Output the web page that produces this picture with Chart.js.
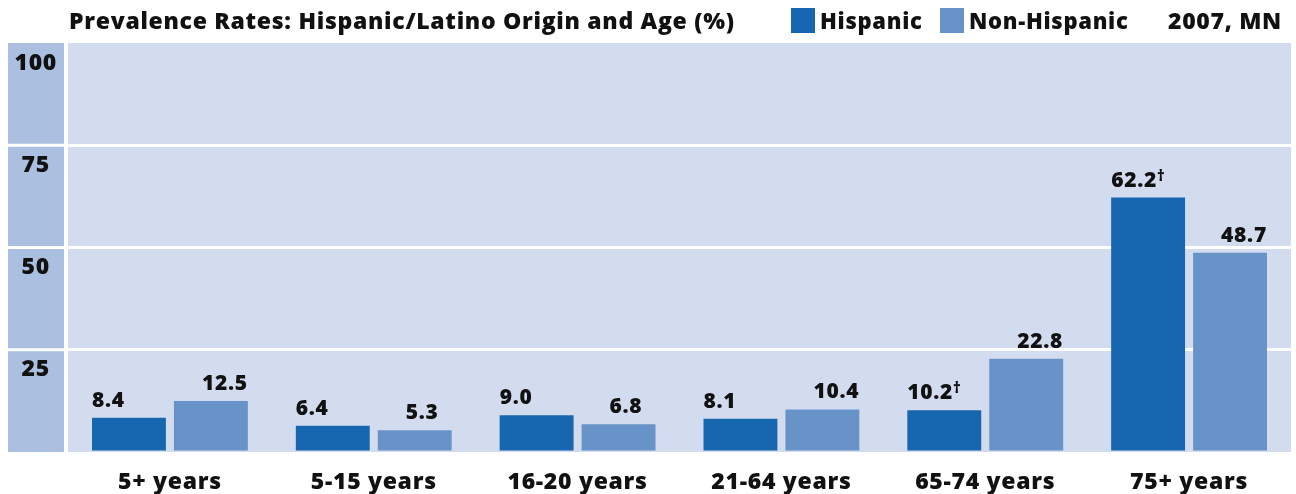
<!DOCTYPE html>
<html>
<head>
<meta charset="utf-8">
<script src="https://cdn.jsdelivr.net/npm/chart.js@4/dist/chart.umd.min.js"></script>
<style>
  html, body { margin: 0; padding: 0; background: #fff; }
  #wrap { position: relative; width: 1296px; height: 494px; }
</style>
</head>
<body>
<div id="wrap"><canvas id="chart"></canvas></div>
<script>
// data
var categories = ['5+ years', '5-15 years', '16-20 years', '21-64 years', '65-74 years', '75+ years'];
var hispanic = [8.4, 6.4, 9.0, 8.1, 10.2, 62.2];
var nonHispanic = [12.5, 5.3, 6.8, 10.4, 22.8, 48.7];
var hispanicNotes = ['', '', '', '', '†', '†'];
var nonHispanicNotes = ['', '', '', '', '', ''];
var yTicks = [0, 25, 50, 75, 100];

var FONT = '"Open Sans", "DejaVu Sans", sans-serif';
var WEIGHT = '800';
var blue = '#1666b0';
var lightBlue = '#6893c9';
var plotBg = '#d3dcef';
var panelBg = '#abbfe0';

// the original type is a bit wider, so open up the letters a little
var spacing = {
    id: 'spacing',
    beforeUpdate: function (chart) { chart.ctx.letterSpacing = '0.7px'; },
    beforeDraw: function (chart) { chart.ctx.letterSpacing = '0.7px'; }
};

// backgrounds: plot area and the tick panel on the left
var backdrop = {
    id: 'backdrop',
    beforeDraw: function (chart) {
        var ctx = chart.ctx;
        var a = chart.chartArea;
        var y = chart.scales.y;
        ctx.save();
        ctx.fillStyle = plotBg;
        ctx.fillRect(a.left, a.top, a.right - a.left, a.bottom - a.top);
        ctx.fillStyle = panelBg;
        ctx.fillRect(8, a.top, a.left - 4 - 8, a.bottom - a.top);
        ctx.strokeStyle = '#ffffff';
        ctx.lineWidth = 3;
        yTicks.forEach(function (t) {
            if (t === 0 || t === 100) return;
            var py = y.getPixelForValue(t);
            ctx.beginPath();
            ctx.moveTo(8, py);
            ctx.lineTo(a.left, py);
            ctx.stroke();
        });
        ctx.restore();
    }
};

// value labels above the bars
var valueLabels = {
    id: 'valueLabels',
    afterDatasetsDraw: function (chart) {
        var ctx = chart.ctx;
        ctx.save();
        ctx.fillStyle = '#111';
        ctx.textBaseline = 'alphabetic';
        ctx.textAlign = 'left';
        chart.data.datasets.forEach(function (ds, di) {
            var meta = chart.getDatasetMeta(di);
            var notes = di === 0 ? hispanicNotes : nonHispanicNotes;
            var shift = di === 0 ? 0 : 28;
            meta.data.forEach(function (bar, i) {
                var txt = ds.data[i].toFixed(1);
                var x = bar.x - bar.width / 2 + shift;
                var by = bar.y - 11;
                ctx.font = WEIGHT + ' 21px ' + FONT;
                ctx.fillText(txt, x, by);
                if (notes[i]) {
                    var w = ctx.measureText(txt).width;
                    ctx.font = WEIGHT + ' 15px ' + FONT;
                    ctx.fillText(notes[i], x + w, by - 6);
                }
            });
        });
        ctx.restore();
    }
};

// header line: title, legend boxes, year/state
var header = {
    id: 'header',
    afterDraw: function (chart) {
        var ctx = chart.ctx;
        ctx.save();
        ctx.fillStyle = '#111';
        ctx.textBaseline = 'alphabetic';
        ctx.textAlign = 'left';
        ctx.font = WEIGHT + ' 23px ' + FONT;
        ctx.fillText('Prevalence Rates: Hispanic/Latino Origin and Age (%)', 69, 29);

        ctx.font = WEIGHT + ' 22px ' + FONT;
        var items = [
            { label: chart.data.datasets[0].label, color: blue, x: 791 },
            { label: chart.data.datasets[1].label, color: lightBlue, x: 940 }
        ];
        items.forEach(function (it) {
            ctx.fillStyle = it.color;
            ctx.fillRect(it.x, 8, 24, 25);
            ctx.fillStyle = '#111';
            ctx.fillText(it.label, it.x + 29, 29);
        });
        ctx.textAlign = 'right';
        ctx.font = WEIGHT + ' 23px ' + FONT;
        ctx.fillText('2007, MN', 1282, 29);
        ctx.restore();
    }
};

var canvas = document.getElementById('chart').getContext('2d');
window.bar = new Chart(canvas, {
    type: 'bar',
    data: {
        labels: categories,
        datasets: [{
                label: 'Hispanic',
                backgroundColor: blue,
                data: hispanic
            },
            {
                label: 'Non-Hispanic',
                backgroundColor: lightBlue,
                data: nonHispanic
            }
        ]
    },
    options: {
        responsive: true,
        maintainAspectRatio: false,
        animation: false,
        categoryPercentage: 0.804,
        barPercentage: 0.902,
        layout: {
            padding: { left: 8, right: 5, top: 43, bottom: 0 }
        },
        plugins: {
            legend: { display: false },
            title: { display: false },
            tooltip: { enabled: false }
        },
        scales: {
            x: {
                grid: { display: false },
                border: { display: false },
                ticks: {
                    color: '#111',
                    font: { family: FONT, size: 23, weight: WEIGHT },
                    padding: 9,
                    maxRotation: 0
                },
                afterFit: function (scale) { scale.height = 42; }
            },
            y: {
                min: 0,
                max: 100,
                afterBuildTicks: function (scale) {
                    scale.ticks = yTicks.map(function (v) { return { value: v }; });
                },
                grid: {
                    color: function (c) {
                        var v = c.tick ? c.tick.value : 0;
                        return (v === 0 || v === 100) ? 'rgba(0,0,0,0)' : '#ffffff';
                    },
                    lineWidth: 3,
                    drawTicks: false
                },
                border: { display: false },
                ticks: {
                    color: '#111',
                    font: { family: FONT, size: 23, weight: WEIGHT },
                    crossAlign: 'center',
                    padding: 11,
                    labelOffset: 20,
                    callback: function (v) { return v === 0 ? '' : v; }
                },
                afterFit: function (scale) { scale.width = 60; }
            }
        }
    },
    plugins: [spacing, backdrop, valueLabels, header]
});
</script>
</body>
</html>
